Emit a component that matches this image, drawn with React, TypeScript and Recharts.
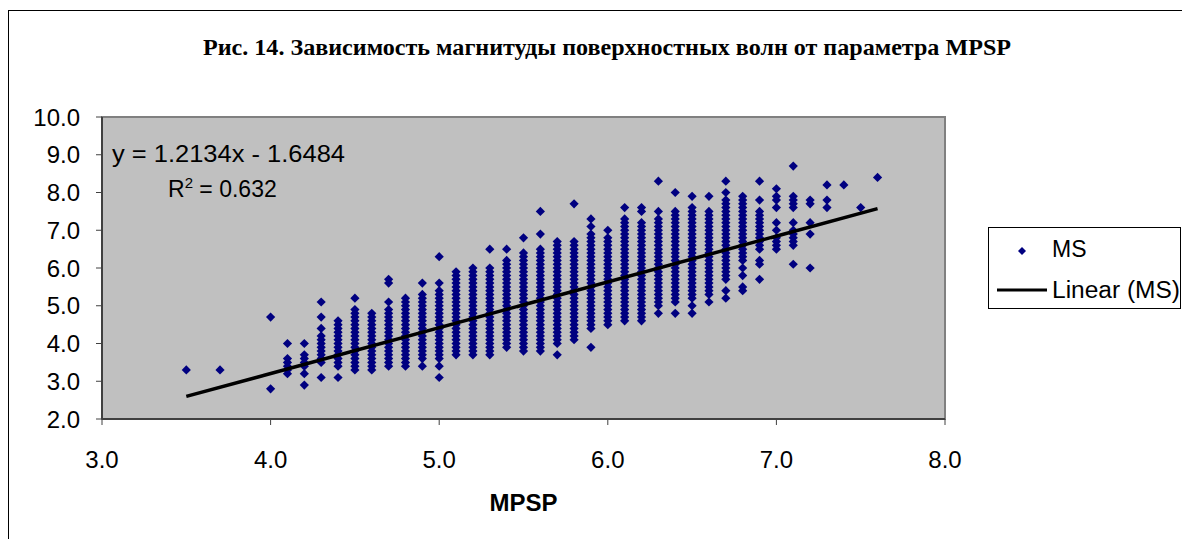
import React from 'react'
import {
  CartesianGrid,
  ReferenceArea,
  Scatter,
  ScatterChart,
  XAxis,
  YAxis,
} from 'recharts'

// solid columns: every 0.1 step of MS between low and high is plotted
const columnMpsp = [4.1, 4.2, 4.3, 4.4, 4.5, 4.6, 4.7, 4.8, 4.9, 5.0, 5.1, 5.2, 5.3, 5.4, 5.5, 5.6, 5.7, 5.8, 5.9, 6.0, 6.1, 6.2, 6.3, 6.4, 6.5, 6.6, 6.7, 6.8, 6.9]
const columnLow = [3.2, 3.4, 3.5, 3.4, 3.3, 3.3, 3.4, 3.4, 3.6, 3.6, 3.7, 3.7, 3.7, 3.9, 3.8, 3.8, 4.0, 4.1, 4.4, 4.5, 4.6, 4.6, 5.0, 5.1, 5.2, 5.3, 5.7, 6.2, 6.5]
const columnHigh = [3.6, 3.7, 4.2, 4.6, 4.9, 4.8, 4.9, 5.2, 5.3, 5.4, 5.9, 6.0, 6.0, 6.2, 6.4, 6.5, 6.7, 6.7, 6.9, 6.8, 7.3, 7.2, 7.3, 7.5, 7.6, 7.5, 7.8, 7.9, 7.5]

// isolated points
const strayMpsp = [
  3.5, 3.7, 4.0, 4.0, 4.1, 4.2, 4.2, 4.2, 4.3, 4.3, 4.3, 4.3, 4.4, 4.5, 4.7, 4.7, 4.7, 4.9, 4.9,
  5.0, 5.0, 5.0, 5.0, 5.3, 5.4, 5.5, 5.6, 5.6, 5.7, 5.8, 5.9, 5.9, 5.9, 6.0, 6.1, 6.2, 6.2,
  6.3, 6.3, 6.3, 6.4, 6.4, 6.5, 6.5, 6.5, 6.6, 6.6, 6.7, 6.7, 6.7, 6.7, 6.8, 6.8, 6.8, 6.8,
  6.9, 6.9, 6.9, 6.9, 6.9,
  7.0, 7.0, 7.0, 7.0, 7.0, 7.0, 7.0, 7.0, 7.0, 7.0,
  7.1, 7.1, 7.1, 7.1, 7.1, 7.1, 7.1, 7.1, 7.1, 7.1, 7.1, 7.1,
  7.2, 7.2, 7.2, 7.2, 7.2, 7.3, 7.3, 7.3, 7.4, 7.5, 7.6,
]
const strayMs = [
  3.3, 3.3, 4.7, 2.8, 4.0, 4.0, 3.2, 2.9, 5.1, 4.7, 4.4, 3.1, 3.1, 5.2, 5.7, 5.6, 5.1, 5.6, 3.4,
  6.3, 5.6, 3.4, 3.1, 6.5, 6.5, 6.8, 7.5, 6.9, 3.7, 7.7, 7.3, 7.1, 3.9, 7.0, 7.6, 7.6, 7.5,
  8.3, 7.5, 4.8, 8.0, 4.8, 7.9, 5.0, 4.8, 7.9, 5.1, 8.3, 8.0, 5.4, 5.2, 6.0, 5.8, 5.5, 5.4,
  8.3, 7.8, 6.2, 6.1, 5.7,
  8.1, 7.9, 7.8, 7.6, 7.2, 7.0, 6.8, 6.7, 6.6, 6.5,
  8.7, 7.9, 7.8, 7.7, 7.6, 7.2, 7.0, 6.9, 6.8, 6.7, 6.6, 6.1,
  7.8, 7.7, 7.2, 6.9, 6.0, 8.2, 7.8, 7.6, 8.2, 7.6, 8.4,
]

// Linear (MS): y = 1.2134x - 1.6484
const trendMpsp = [3.5, 7.6]
const trendMs = [2.598, 7.573]

const xTicks = [3, 4, 5, 6, 7, 8]
const yTicks = [2, 3, 4, 5, 6, 7, 8, 9, 10]

const points: { x: number; y: number }[] = []
columnMpsp.forEach((x, i) => {
  for (let t = Math.round(columnLow[i] * 10); t <= Math.round(columnHigh[i] * 10); t++) {
    points.push({ x, y: t / 10 })
  }
})
strayMpsp.forEach((x, i) => points.push({ x, y: strayMs[i] }))

const trend = trendMpsp.map((x, i) => ({ x, y: trendMs[i] }))

const sans = '"Liberation Sans", Arial, sans-serif'
const navy = '#000080'

function Diamond(props: any) {
  const { cx, cy } = props
  if (cx == null || cy == null) return null
  const r = 4.6
  return <polygon points={`${cx},${cy - r} ${cx + r},${cy} ${cx},${cy + r} ${cx - r},${cy}`} fill={navy} />
}

export default function App() {
  return (
    <div style={{ position: 'fixed', left: 8, top: 8, width: 1174, height: 531, overflow: 'hidden', fontFamily: sans, background: '#fff' }}>
      <div style={{ position: 'absolute', left: 0, top: 0 }}>
        <ScatterChart width={1174} height={531} margin={{ top: 109, right: 237, bottom: 20, left: 0 }}>
          <CartesianGrid horizontal={false} vertical={false} fill="#C0C0C0" />
          <ReferenceArea x1={3} x2={8} y1={2} y2={10} fill="none" stroke="#808080" strokeWidth={2} />
          <XAxis
            type="number"
            dataKey="x"
            domain={[3, 8]}
            ticks={xTicks}
            height={100}
            tickSize={6}
            tickMargin={26}
            stroke="#404040"
            axisLine={{ stroke: '#404040', strokeWidth: 2 }}
            tick={{ fill: '#000', fontSize: 24, fontFamily: sans }}
            tickFormatter={(v: number) => v.toFixed(1)}
            label={({ viewBox }: any) => (
              <text x={viewBox.x + viewBox.width / 2} y={viewBox.y + 92} textAnchor="middle" fontSize={24} fontWeight="bold" fontFamily={sans} fill="#000">
                MPSP
              </text>
            )}
          />
          <YAxis
            type="number"
            dataKey="y"
            domain={[2, 10]}
            ticks={yTicks}
            width={94}
            tickSize={6}
            tickMargin={16}
            stroke="#404040"
            axisLine={{ stroke: '#404040', strokeWidth: 2 }}
            tick={{ fill: '#000', fontSize: 24, fontFamily: sans }}
            tickFormatter={(v: number) => v.toFixed(1)}
          />
          <Scatter name="MS" data={points} shape={<Diamond />} isAnimationActive={false} />
          <Scatter
            name="Linear (MS)"
            data={trend}
            line={{ stroke: '#000', strokeWidth: 3.5 }}
            shape={() => null}
            isAnimationActive={false}
          />
        </ScatterChart>
      </div>
      <svg width={1174} height={531} style={{ position: 'absolute', left: 0, top: 0, pointerEvents: 'none' }}>
        {/* chart frame: only its top and left edges fall inside the picture */}
        <line x1={0} x2={1174} y1={2.5} y2={2.5} stroke="#000" strokeWidth={1} />
        <line x1={0.5} x2={0.5} y1={2} y2={531} stroke="#000" strokeWidth={1} />
        <text x={599} y={47} textAnchor="middle" fontFamily='"Liberation Serif", "Times New Roman", serif' fontWeight="bold" fontSize={24} textLength={808} lengthAdjust="spacingAndGlyphs">
          Рис. 14. Зависимость магнитуды поверхностных волн от параметра MPSP
        </text>
        <text x={104} y={154} fontSize={23} fontFamily={sans} textLength={233} lengthAdjust="spacingAndGlyphs">
          y = 1.2134x - 1.6484
        </text>
        <text x={160} y={189} fontSize={23} fontFamily={sans}>
          R<tspan fontSize={15} dy={-9}>2</tspan>
          <tspan dy={9}> = 0.632</tspan>
        </text>
        <rect x={980.5} y={219.5} width={192} height={81} fill="#fff" stroke="#000" strokeWidth={1} />
        <polygon points="1014,239 1018,243 1014,247 1010,243" fill={navy} />
        <text x={1044} y={249} fontSize={23} fontFamily={sans}>MS</text>
        <line x1={989} x2={1039} y1={282} y2={282} stroke="#000" strokeWidth={3} />
        <text x={1044} y={290} fontSize={23} fontFamily={sans} textLength={128} lengthAdjust="spacingAndGlyphs">Linear (MS)</text>
      </svg>
    </div>
  )
}
